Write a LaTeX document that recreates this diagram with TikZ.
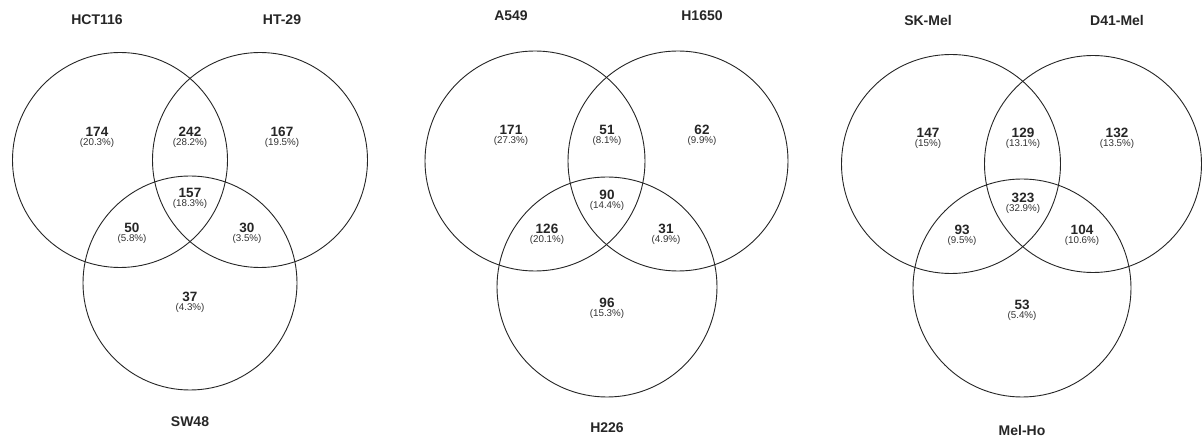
\documentclass[tikz,border=0pt]{standalone}
\usepackage{fontspec}
\setmainfont{Liberation Sans}
\begin{document}
\begin{tikzpicture}[x=1pt,y=-1pt,
  setc/.style={circle,draw=black!85,line width=0.9pt,inner sep=0pt,minimum size=#1},
  ttl/.style={font=\fontsize{14}{16}\selectfont\bfseries,text=black!85},
  cnt/.style={align=center,text=black!85,inner sep=0pt},
]
\newcommand{\vnum}[2]{{\fontsize{13.5}{13}\selectfont\bfseries #1}\\[-3pt]{\fontsize{9.8}{10}\selectfont\color{black!80} #2}}
\useasboundingbox[fill=white] (0,0) rectangle (1203,438);
% Panel 1
\node[setc=215pt] (a1) at (120,160) {};
\node[setc=215pt] (b1) at (260,160) {};
\node[setc=214pt] (c1) at (190,283) {};
\node[ttl] (la1) at (97,20) {HCT116};
\node[ttl] (lb1) at (282,20) {HT-29};
\node[ttl] (lc1) at (190,422) {SW48};
\node[cnt] (n1a) at (97,137) {\vnum{174}{(20.3\%)}};
\node[cnt] (n1ab) at (190,137) {\vnum{242}{(28.2\%)}};
\node[cnt] (n1b) at (282,137) {\vnum{167}{(19.5\%)}};
\node[cnt] (n1abc) at (190,198) {\vnum{157}{(18.3\%)}};
\node[cnt] (n1ac) at (132,233) {\vnum{50}{(5.8\%)}};
\node[cnt] (n1bc) at (247,233) {\vnum{30}{(3.5\%)}};
\node[cnt] (n1c) at (190,302) {\vnum{37}{(4.3\%)}};
% Panel 2
\node[setc=220pt] (a2) at (535,161) {};
\node[setc=220pt] (b2) at (678,161) {};
\node[setc=220pt] (c2) at (607,287) {};
\node[ttl] (la2) at (511,16) {A549};
\node[ttl] (lb2) at (702,16) {H1650};
\node[ttl] (lc2) at (607,428) {H226};
\node[cnt] (n2a) at (511,135) {\vnum{171}{(27.3\%)}};
\node[cnt] (n2ab) at (607,135) {\vnum{51}{(8.1\%)}};
\node[cnt] (n2b) at (702,135) {\vnum{62}{(9.9\%)}};
\node[cnt] (n2abc) at (607,200) {\vnum{90}{(14.4\%)}};
\node[cnt] (n2ac) at (547,234) {\vnum{126}{(20.1\%)}};
\node[cnt] (n2bc) at (666,234) {\vnum{31}{(4.9\%)}};
\node[cnt] (n2c) at (607,308) {\vnum{96}{(15.3\%)}};
% Panel 3
\node[setc=219pt] (a3) at (951,164) {};
\node[setc=217pt] (b3) at (1093,164) {};
\node[setc=218pt] (c3) at (1022,288) {};
\node[ttl] (la3) at (928,20) {SK-Mel};
\node[ttl] (lb3) at (1117,20) {D41-Mel};
\node[ttl] (lc3) at (1022,430) {Mel-Ho};
\node[cnt] (n3a) at (928,138) {\vnum{147}{(15\%)}};
\node[cnt] (n3ab) at (1023,138) {\vnum{129}{(13.1\%)}};
\node[cnt] (n3b) at (1117,138) {\vnum{132}{(13.5\%)}};
\node[cnt] (n3abc) at (1023,203) {\vnum{323}{(32.9\%)}};
\node[cnt] (n3ac) at (962,235) {\vnum{93}{(9.5\%)}};
\node[cnt] (n3bc) at (1082,235) {\vnum{104}{(10.6\%)}};
\node[cnt] (n3c) at (1022,310) {\vnum{53}{(5.4\%)}};
\end{tikzpicture}
\end{document}
